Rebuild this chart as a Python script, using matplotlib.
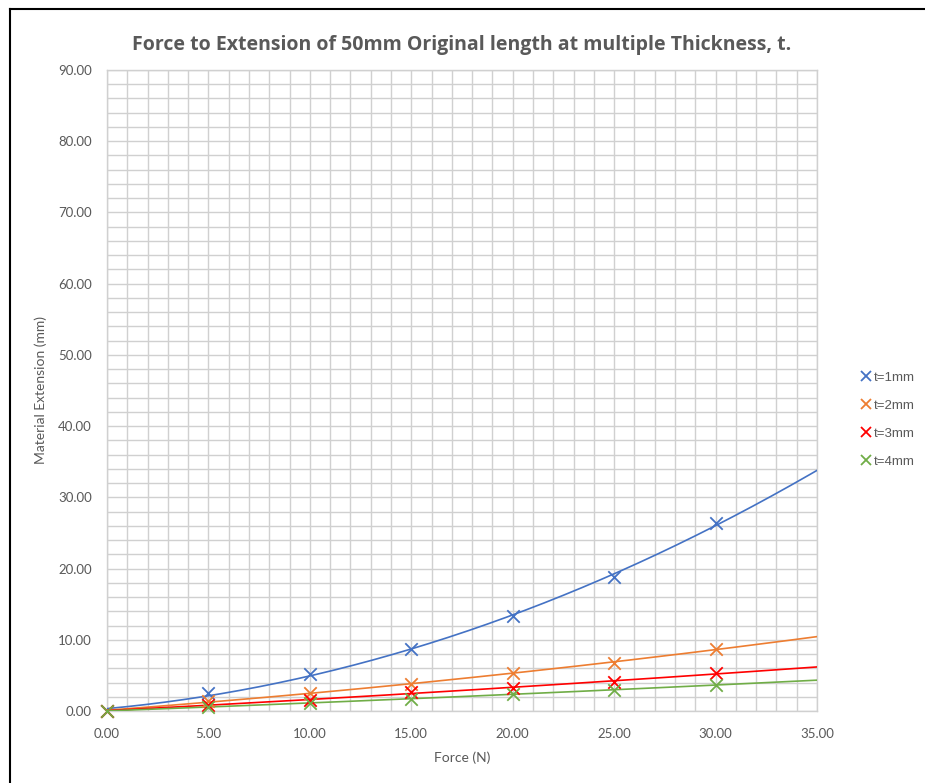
import numpy as np
import matplotlib
matplotlib.use("Agg")
import matplotlib.pyplot as plt
from matplotlib.lines import Line2D
from matplotlib.ticker import MultipleLocator, FormatStrFormatter

# Measured force / extension data
force_n = [0, 5, 10, 15, 20, 25, 30]
ext_t1 = [0.0, 2.5, 5.2, 8.7, 13.3, 18.8, 26.4]
ext_t2 = [0.0, 1.4, 2.5, 3.8, 5.3, 6.8, 8.7]
ext_t3 = [0.0, 0.9, 1.5, 2.7, 3.2, 4.1, 5.3]
ext_t4 = [0.0, 0.6, 1.1, 1.7, 2.4, 2.95, 3.65]

series_labels = ["t=1mm", "t=2mm", "t=3mm", "t=4mm"]
series_values = [ext_t1, ext_t2, ext_t3, ext_t4]
series_colors = ["#4472C4", "#ED7D31", "#FF0000", "#70AD47"]

title = "Force to Extension of 50mm Original length at multiple Thickness, t."
x_label = "Force (N)"
y_label = "Material Extension (mm)"

W, H = 925, 783
fig = plt.figure(figsize=(W / 100, H / 100), dpi=100)
fig.patch.set_facecolor("white")

left, right, top, bottom = 107, 817, 70, 711
ax = fig.add_axes([left / W, 1 - bottom / H, (right - left) / W, (bottom - top) / H])

ax.set_xlim(0, 35)
ax.set_ylim(0, 90)
ax.xaxis.set_major_locator(MultipleLocator(5))
ax.xaxis.set_minor_locator(MultipleLocator(1))
ax.yaxis.set_major_locator(MultipleLocator(10))
ax.yaxis.set_minor_locator(MultipleLocator(2))
ax.xaxis.set_major_formatter(FormatStrFormatter("%.2f"))
ax.yaxis.set_major_formatter(FormatStrFormatter("%.2f"))

grid_c = "#D0D0D0"
ax.grid(which="both", color=grid_c, linewidth=1.0)
ax.set_axisbelow(True)
for s in ax.spines.values():
    s.set_color(grid_c)
    s.set_linewidth(1.0)
ax.tick_params(which="both", length=0, labelsize=9.5, labelcolor="#595959",
               labelfontfamily="Lato")
ax.tick_params(axis="x", pad=12.5)
ax.tick_params(axis="y", pad=11)

x_fit = np.linspace(0, 35, 300)
handles = []
for lab, vals, col in zip(series_labels, series_values, series_colors):
    coeffs = np.polyfit(force_n, vals, 2)
    ax.plot(x_fit, np.polyval(coeffs, x_fit), color=col, linewidth=1.2,
            zorder=3, clip_on=True)
    ax.scatter(force_n, vals, marker="x", s=80, color=col, linewidths=1.3,
               zorder=4, clip_on=False)
    handles.append(Line2D([], [], marker="x", linestyle="none", color=col,
                          markersize=7, markeredgewidth=1.3, label=lab))

ax.set_xlabel(x_label, fontsize=10, color="#595959", family="Lato",
              labelpad=8)
ax.set_ylabel(y_label, fontsize=10, color="#595959", family="Lato",
              labelpad=8)

fig.text(462 / W, 1 - 45 / H, title, ha="center", va="center", fontsize=14,
         fontweight="bold", color="#595959", family="Open Sans")

leg = fig.legend(handles=handles, loc="upper left",
                 bbox_to_anchor=(850 / W, 1 - 360 / H), frameon=False,
                 handlelength=0.6, handletextpad=0.3, labelspacing=1.18,
                 prop={"family": "Liberation Sans", "size": 9.5})
for t in leg.get_texts():
    t.set_color("#595959")

# chart frame: top and left edges
fig.add_artist(Line2D([10 / W, 1.0], [1 - 9 / H, 1 - 9 / H], color="black",
                      linewidth=1.5, transform=fig.transFigure))
fig.add_artist(Line2D([10 / W, 10 / W], [0, 1 - 9 / H], color="black",
                      linewidth=1.5, transform=fig.transFigure))

fig.savefig("out.png", dpi=100, facecolor="white")
